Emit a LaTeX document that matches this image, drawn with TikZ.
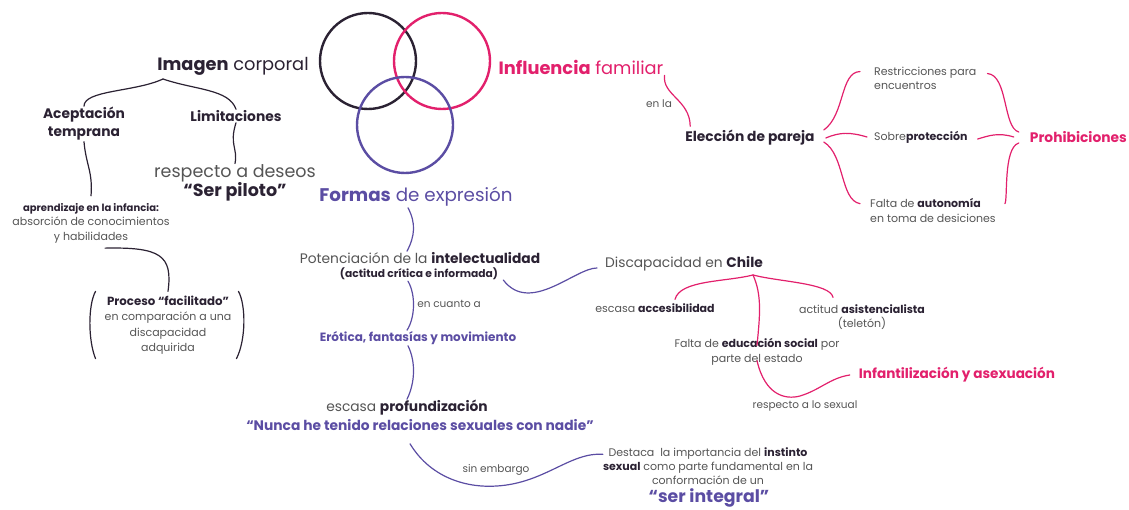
\documentclass[tikz,border=0pt]{standalone}
\usepackage{fontspec}
\setmainfont{Poppins}
\definecolor{ink}{HTML}{2B2233}
\definecolor{rosa}{HTML}{E2206C}
\definecolor{lila}{HTML}{5B4DA3}
\definecolor{gris}{HTML}{555555}
\newcommand{\fuerte}[1]{\textbf{\textcolor{ink}{#1}}}
\begin{document}
\begin{tikzpicture}[x=1pt, y=-1pt,
        every node/.style={inner sep=1pt, align=center, text=gris},
        big/.style={font=\fontsize{17.8}{21}\selectfont},
        mid/.style={font=\fontsize{13.8}{18}\selectfont},
        midb/.style={font=\fontsize{13.8}{18}\bfseries},
        small/.style={font=\fontsize{11}{14.5}\selectfont},
        tiny/.style={font=\fontsize{10.5}{12}\selectfont},
        ring/.style={circle, line width=2.4pt, minimum size=96pt},
        link/.style={line width=1.2pt, line cap=round}
    ]
    \useasboundingbox (0,0) rectangle (1129,510);
    % three circles
    \node[ring, draw=ink] (cimg) at (368,61) {};
    \node[ring, draw=rosa] (cinf) at (442,61) {};
    \node[ring, draw=lila] (cform) at (405,125) {};
    % titles
    \node[big] (img) at (233,66) {\fuerte{Imagen} \textcolor{ink}{corporal}};
    \node[big, text=rosa] (inf) at (581,67) {\textbf{Influencia} familiar};
    \node[big, text=lila, font=\fontsize{18.3}{21}\selectfont] (form) at (416,197) {\textbf{Formas} de expresión};
    % imagen corporal
    \node[midb, text=ink] (acep) at (84,124) {Aceptación\\temprana};
    \node[midb, text=ink] (lim) at (236,116) {Limitaciones};
    \node[font=\fontsize{17.5}{19}\selectfont] (des) at (235,183) {respecto a deseos\\\fuerte{“Ser piloto”}};
    \node[small] (apr) at (91,223) {{\fontsize{10}{14.5}\selectfont\fuerte{aprendizaje en la infancia:}}\\absorción de conocimientos\\y habilidades};
    \node[small, font=\fontsize{11}{15.5}\selectfont] (proc) at (168,325) {{\fontsize{11.8}{15.5}\selectfont\fuerte{Proceso “facilitado”}}\\en comparación a una\\discapacidad\\adquirida};
    % formas de expresion
    \node[mid] (pot) at (420,258) {Potenciación de la \fuerte{intelectualidad}};
    \node[font=\fontsize{10.7}{12}\bfseries, text=ink] (crit) at (419,274) {(actitud crítica e informada)};
    \node[tiny] (cuanto) at (449,304) {en cuanto a};
    \node[font=\fontsize{12}{14}\bfseries, text=lila] (ero) at (418,338) {Erótica, fantasías y movimiento};
    \node[mid] (esc) at (407,408) {escasa \fuerte{profundización}};
    \node[font=\fontsize{13.8}{16}\bfseries, text=lila] (nunca) at (420,425) {“Nunca he tenido relaciones sexuales con nadie”};
    \node[tiny] (emb) at (496,470) {sin embargo};
    \node[small, font=\fontsize{11}{14}\selectfont] (dest) at (708,466) {Destaca\ \ la importancia del \fuerte{instinto}\\\fuerte{sexual} como parte fundamental en la\\conformación de un};
    \node[font=\fontsize{17.3}{20}\bfseries, text=lila] (integ) at (709,498) {“ser integral”};
    % discapacidad en chile
    \node[mid] (disc) at (684,264) {Discapacidad en \fuerte{Chile}};
    \node[small] (acc) at (655,308) {escasa \fuerte{accesibilidad}};
    \node[small, font=\fontsize{11}{14}\selectfont] (asis) at (862,317) {actitud \fuerte{asistencialista}\\(teletón)};
    \node[small, font=\fontsize{11}{15}\selectfont] (edu) at (757,352) {Falta de \fuerte{educación social} por\\parte del estado};
    \node[font=\fontsize{13.6}{16}\bfseries, text=rosa] (infa) at (957,375) {Infantilización y asexuación};
    \node[tiny] (sex) at (805,406) {respecto a lo sexual};
    % influencia familiar
    \node[tiny] (enla) at (659,104) {en la};
    \node[midb, text=ink] (ele) at (750,138) {Elección de pareja};
    \node[small, font=\fontsize{11}{14}\selectfont, anchor=west, align=left] (restr) at (873,78) {Restricciones para\\encuentros};
    \node[small, anchor=west] (sobre) at (873,137) {Sobre\fuerte{protección}};
    \node[small, font=\fontsize{11}{15}\selectfont, anchor=west, align=left] (falta) at (869,210) {Falta de \fuerte{autonomía}\\en toma de desiciones};
    \node[midb, text=rosa, anchor=east] (proh) at (1128,137) {Prohibiciones};
    \coordinate (imgtip) at (163,79);
    \coordinate (disctip) at (753,275);
    % connectors
    \begin{scope}[link, ink]
        \draw (acep.north) .. controls (84,90) and (135,92) .. (imgtip);
        \draw (imgtip) .. controls (195,90) and (229,89) .. (lim.north);
        \draw (acep.south) .. controls (86,165) and (93,172) .. ([yshift=6]apr.north);
        \draw (lim.south) .. controls (229,145) and (238,148) .. (des.north);
        \draw ([shift={(14,4)}]apr.south) .. controls (160,247) and (173,255) .. ([yshift=3]proc.north);
        \draw ([shift={(-8,-3)}]proc.north west) .. controls (88,305) and (88,340) .. ([shift={(-8,3)}]proc.south west);
        \draw ([shift={(6,-3)}]proc.north east) .. controls (246,305) and (246,340) .. ([shift={(4,3)}]proc.south east);
    \end{scope}
    \begin{scope}[link, lila]
        \draw ([xshift=-8]form.south) .. controls (416,223) and (415,236) .. ([xshift=-13]pot.north);
        \draw ([xshift=-11]crit.south) .. controls (416,295) and (415,318) .. ([xshift=-11]ero.north);
        \draw ([xshift=-10]ero.south) .. controls (416,362) and (415,383) .. (esc.north);
        \draw ([shift={(4,6)}]crit.east) .. controls (530,315) and (575,268) .. ([shift={(-7,4)}]disc.west);
        \draw ([shift={(-10,12)}]nunca.south) .. controls (432,480) and (470,488) .. (497,486)
            .. controls (545,483) and (570,452) .. ([shift={(1,8)}]dest.north west);
    \end{scope}
    \begin{scope}[link, rosa]
        \draw (inf.south east) .. controls (662,95) and (690,100) .. ([shift={(6,-3)}]ele.north west);
        \draw (disctip) .. controls (725,282) and (680,280) .. ([shift={(20,-3)}]acc.north);
        \draw (disctip) .. controls (780,282) and (830,283) .. ([shift={(-29,-6)}]asis.north);
        \draw (disctip) .. controls (762,295) and (760,315) .. ([yshift=-8]edu.north);
        \draw ([yshift=6]edu.south) .. controls (765,395) and (785,400) .. (800,396)
            .. controls (820,390) and (830,378) .. ([xshift=-8]infa.west);
        \draw ([shift={(8,-8)}]ele.east) .. controls (845,115) and (840,72) .. ([shift={(-13,6)}]restr.north west);
        \draw ([xshift=10]ele.east) .. controls (840,132) and (850,132) .. ([xshift=-6]sobre.west);
        \draw ([shift={(8,4)}]ele.east) .. controls (845,155) and (840,200) .. ([shift={(-9,7)}]falta.north west);
        \draw ([shift={(10,8)}]restr.north east) .. controls (1008,75) and (1003,128) .. ([shift={(-10,-5)}]proh.west);
        \draw ([shift={(9,2)}]sobre.east) .. controls (988,136) and (998,132) .. ([xshift=-15]proh.west);
        \draw ([shift={(8,7)}]falta.north east) .. controls (1008,200) and (1003,148) .. ([shift={(-10,6)}]proh.west);
    \end{scope}
\end{tikzpicture}
\end{document}
